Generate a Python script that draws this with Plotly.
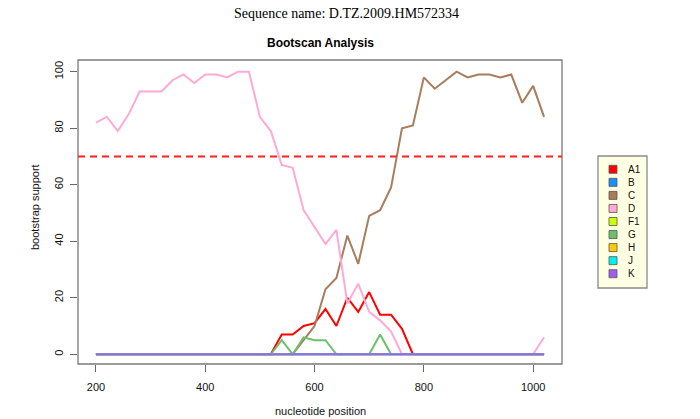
import plotly.graph_objects as go

# ---- data ----
positions = [200, 220, 240, 260, 280, 300, 320, 340, 360, 380, 400, 420, 440, 460,
             480, 500, 520, 540, 560, 580, 600, 620, 640, 660, 680, 700, 720, 740,
             760, 780, 800, 820, 840, 860, 880, 900, 920, 940, 960, 980, 1000, 1020]

A1 = [0, 0, 0, 0, 0, 0, 0, 0, 0, 0, 0, 0, 0, 0, 0, 0, 0,
      7, 7, 10, 11, 16, 10, 20, 15, 22, 14, 14, 9,
      0, 0, 0, 0, 0, 0, 0, 0, 0, 0, 0, 0, 0, 0]
B = [0, 0, 0, 0, 0, 0, 0, 0, 0, 0, 0, 0, 0, 0, 0, 0, 0, 0, 0, 0, 0,
     0, 0, 0, 0, 0, 0, 0, 0, 0, 0, 0, 0, 0, 0, 0, 0, 0, 0, 0, 0, 0]
C = [0, 0, 0, 0, 0, 0, 0, 0, 0, 0, 0, 0, 0, 0, 0, 0, 0, 0, 0,
     5, 10, 23, 27, 42, 32, 49, 51, 59, 80, 81, 98, 94, 97, 100, 98, 99, 99,
     98, 99, 89, 95, 84]
D = [82, 84, 79, 85, 93, 93, 93, 97, 99, 96, 99, 99, 98, 100, 100, 84, 79,
     67, 66, 51, 45, 39, 44, 18, 25, 15, 12, 8, 0,
     0, 0, 0, 0, 0, 0, 0, 0, 0, 0, 0, 0, 6]
F1 = [0, 0, 0, 0, 0, 0, 0, 0, 0, 0, 0, 0, 0, 0, 0, 0, 0, 0, 0, 0, 0,
      0, 0, 0, 0, 0, 0, 0, 0, 0, 0, 0, 0, 0, 0, 0, 0, 0, 0, 0, 0, 0]
G = [0, 0, 0, 0, 0, 0, 0, 0, 0, 0, 0, 0, 0, 0, 0, 0, 0,
     5, 0, 6, 5, 5, 0, 0, 0, 0, 7, 0,
     0, 0, 0, 0, 0, 0, 0, 0, 0, 0, 0, 0, 0, 0]
H = [0, 0, 0, 0, 0, 0, 0, 0, 0, 0, 0, 0, 0, 0, 0, 0, 0, 0, 0, 0, 0,
     0, 0, 0, 0, 0, 0, 0, 0, 0, 0, 0, 0, 0, 0, 0, 0, 0, 0, 0, 0, 0]
J = [0, 0, 0, 0, 0, 0, 0, 0, 0, 0, 0, 0, 0, 0, 0, 0, 0, 0, 0, 0, 0,
     0, 0, 0, 0, 0, 0, 0, 0, 0, 0, 0, 0, 0, 0, 0, 0, 0, 0, 0, 0, 0]
K = [0, 0, 0, 0, 0, 0, 0, 0, 0, 0, 0, 0, 0, 0, 0, 0, 0, 0, 0, 0, 0,
     0, 0, 0, 0, 0, 0, 0, 0, 0, 0, 0, 0, 0, 0, 0, 0, 0, 0, 0, 0, 0]

series_names = ["A1", "B", "C", "D", "F1", "G", "H", "J", "K"]
series_values = [A1, B, C, D, F1, G, H, J, K]
series_colors = ["#FF0000", "#1A90FF", "#A87D5C", "#FFAAD5", "#CCFF00",
                 "#6CC06C", "#FFC800", "#00F0F0", "#A25EF2"]

threshold = 70
x_ticks = [200, 400, 600, 800, 1000]
y_ticks = [0, 20, 40, 60, 80, 100]

# ---- layout geometry (pixels) ----
W, Hh = 700, 419
L, R, T, Bm = 78, 138, 60, 55
pw = W - L - R
ph = Hh - T - Bm

def px_x(px):
    return (px - L) / pw

def px_y(py):
    return (Hh - Bm - py) / ph

font_sans = "Liberation Sans, Arial, sans-serif"

fig = go.Figure()
for name, vals, col in zip(series_names, series_values, series_colors):
    fig.add_trace(go.Scatter(x=positions, y=vals, mode="lines", name=name,
                             line=dict(color=col, width=2), showlegend=False,
                             hoverinfo="skip"))

shapes = []
# plot box
shapes.append(dict(type="rect", xref="paper", yref="paper", x0=0, x1=1, y0=0, y1=1,
                   line=dict(color="#7a7a7a", width=1.3), layer="above"))
# threshold dashed line
shapes.append(dict(type="line", xref="paper", yref="y", x0=0, x1=1,
                   y0=threshold, y1=threshold,
                   line=dict(color="#FF2020", width=2, dash="7px,5px")))

annotations = []
# legend box
lx0, lx1, ly0, ly1 = 598, 647, 156, 288
shapes.append(dict(type="rect", xref="paper", yref="paper",
                   x0=px_x(lx0), x1=px_x(lx1), y0=px_y(ly1), y1=px_y(ly0),
                   line=dict(color="#8a8a8a", width=1.3), fillcolor="#FFFFE3"))
for i, (name, col) in enumerate(zip(series_names, series_colors)):
    cy = 169.3 + 13.05 * i
    shapes.append(dict(type="rect", xref="paper", yref="paper",
                       x0=px_x(609), x1=px_x(617), y0=px_y(cy + 4), y1=px_y(cy - 4),
                       line=dict(color="#555555", width=0.8), fillcolor=col))
    annotations.append(dict(text=name, xref="paper", yref="paper",
                            x=px_x(626), y=px_y(cy), xanchor="left", yanchor="middle",
                            showarrow=False, font=dict(family=font_sans, size=10, color="#111")))

# titles
annotations.append(dict(text="Sequence name: D.TZ.2009.HM572334", xref="paper", yref="paper",
                        x=px_x(346.5), y=px_y(14), xanchor="center", yanchor="middle",
                        showarrow=False,
                        font=dict(family="Liberation Serif, Times New Roman, serif",
                                  size=14, color="#000")))
annotations.append(dict(text="<b>Bootscan Analysis</b>", xref="paper", yref="paper",
                        x=0.5, y=px_y(43), xanchor="center", yanchor="middle",
                        showarrow=False, font=dict(family=font_sans, size=12, color="#000")))
# axis titles
annotations.append(dict(text="nucleotide position", xref="paper", yref="paper",
                        x=0.5, y=px_y(411), xanchor="center", yanchor="middle",
                        showarrow=False, font=dict(family=font_sans, size=11, color="#111")))
annotations.append(dict(text="bootstrap support", xref="paper", yref="paper",
                        x=px_x(35), y=px_y(207), xanchor="center", yanchor="middle",
                        textangle=-90, showarrow=False,
                        font=dict(family=font_sans, size=11, color="#111")))

fig.update_layout(
    width=W, height=Hh,
    margin=dict(l=L, r=R, t=T, b=Bm, pad=0),
    paper_bgcolor="white", plot_bgcolor="white",
    showlegend=False, hovermode=False,
    shapes=shapes, annotations=annotations,
    xaxis=dict(range=[167.2, 1052.8], tickvals=x_ticks, ticks="outside", ticklen=7,
               tickcolor="#666", tickwidth=1, showgrid=False, zeroline=False,
               showline=False, ticklabelstandoff=6,
               tickfont=dict(family=font_sans, size=11, color="#111")),
    yaxis=dict(range=[-3.45, 104.15], tickvals=y_ticks, ticks="outside", ticklen=7,
               tickcolor="#666", tickwidth=1, showgrid=False, zeroline=False,
               showline=False, tickangle=-90, ticklabelstandoff=3,
               tickfont=dict(family=font_sans, size=11, color="#111")),
)

fig.write_html("out.html", config={"displayModeBar": False},
               post_script="document.body.style.margin='0';document.body.style.padding='0';")
